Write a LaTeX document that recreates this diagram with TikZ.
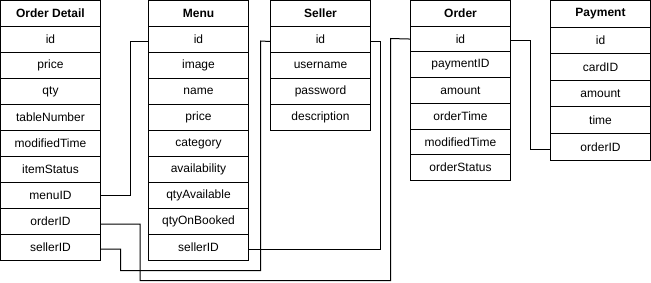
\documentclass[tikz,border=0pt]{standalone}
\usepackage{fontspec}
\setmainfont{Liberation Sans}
\begin{document}
\begin{tikzpicture}[x=1pt,y=-1pt,
  cell/.style={draw=black, line width=1pt, fill=white, anchor=north west,
    minimum width=100pt, inner sep=0pt, outer sep=0pt, font=\fontsize{12}{14}\selectfont},
  hdr/.style={cell, font=\fontsize{12}{14}\selectfont\bfseries},
  link/.style={draw=black, line width=1pt}]
\useasboundingbox (0,0) rectangle (651,282);

% one table: prefix, left edge, row height, title, fields (name/label)
\newcommand{\dbtable}[5]{%
  \node[hdr, minimum height=#3pt] (#1-h) at (#2,0.5) {#4};
  \foreach \n/\t [count=\i] in {#5} {
    \node[cell, minimum height=#3pt] (#1-\n) at (#2,{0.5+\i*#3}) {\t};
  }%
}

\dbtable{od}{0.5}{26}{Order Detail}{id/id, price/price, qty/qty, table/tableNumber,
  mod/modifiedTime, status/itemStatus, menu/menuID, order/orderID, seller/sellerID}
\dbtable{mn}{148.5}{26}{Menu}{id/id, image/image, name/name, price/price,
  cat/category, avail/availability, qa/qtyAvailable, qb/qtyOnBooked, seller/sellerID}
\dbtable{sl}{270.5}{26}{Seller}{id/id, user/username, pass/password, desc/description}
\dbtable{or}{410.5}{25.7}{Order}{id/id, pay/paymentID, amount/amount,
  time/orderTime, mod/modifiedTime, status/orderStatus}
\dbtable{pm}{550.5}{26.6}{Payment}{id/id, card/cardID, amount/amount, time/time, order/orderID}

% relations
\draw[link] (od-menu.east) -- ++(30,0) |- ([yshift=-2pt]mn-id.west);
\draw[link] ([yshift=-2.5pt]od-order.east) -- ++(39.5,0) -- ++(0,{280-223.5})
  -| (390.5,38.5) -- (or-id.west);
\draw[link] ([yshift=-1.5pt]od-seller.east) -- ++(20,0) -- ++(0,{270-248.5})
  -| (260.5,41) -- ([yshift=-2pt]sl-id.west);
\draw[link] ([yshift=-2pt]mn-seller.east) -- ++(132,0) |- ([yshift=-2pt]sl-id.east);
\draw[link] ([yshift=-1.5pt]or-id.east) -- ++(20,0) |- ([yshift=-3pt]pm-order.west);
\end{tikzpicture}
\end{document}
